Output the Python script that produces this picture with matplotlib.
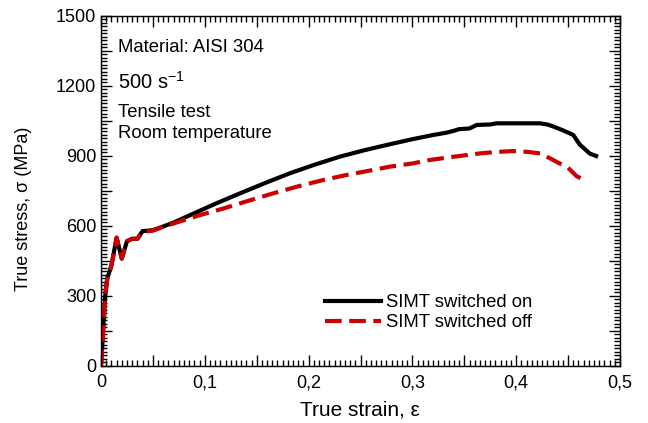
import matplotlib.pyplot as plt
from matplotlib.ticker import MultipleLocator, FuncFormatter

plt.rcParams['font.family'] = ['Liberation Sans', 'DejaVu Sans']
plt.rcParams['mathtext.fontset'] = 'custom'
plt.rcParams['mathtext.rm'] = 'Liberation Sans'

# SIMT switched on
strain_on = [0, 0.002, 0.004, 0.006, 0.01, 0.015, 0.02, 0.025, 0.03, 0.035, 0.04,
             0.05, 0.06, 0.07, 0.086, 0.11, 0.134, 0.158, 0.182, 0.206, 0.23, 0.254,
             0.278, 0.30, 0.32, 0.333, 0.34, 0.345, 0.355, 0.362, 0.375, 0.381, 0.423,
             0.43, 0.436, 0.445, 0.455, 0.461, 0.466, 0.471, 0.477]
stress_on = [0, 150, 300, 375, 430, 550, 460, 535, 545, 545, 578,
             582, 598, 615, 647, 695, 740, 784, 826, 863, 897, 925,
             950, 972, 990, 1000, 1008, 1015, 1018, 1033, 1035, 1040, 1040,
             1035, 1026, 1010, 990, 950, 930, 910, 900]

# SIMT switched off
strain_off = [0, 0.002, 0.004, 0.006, 0.01, 0.015, 0.02, 0.025, 0.03, 0.035, 0.04,
              0.05, 0.06, 0.07, 0.094, 0.118, 0.142, 0.166, 0.19, 0.214, 0.238, 0.262,
              0.278, 0.30, 0.317, 0.34, 0.365, 0.38, 0.397, 0.41, 0.423, 0.433, 0.441,
              0.449, 0.458, 0.462]
stress_off = [0, 150, 300, 375, 430, 550, 460, 535, 545, 545, 575,
              580, 597, 611, 645, 675, 708, 740, 770, 797, 820, 840,
              854, 868, 883, 897, 911, 917, 921, 918, 911, 889, 870,
              854, 814, 805]

fig = plt.figure(figsize=(6.48, 4.23), dpi=100)
ax = fig.add_axes([0.1559, 0.1348, 0.8009, 0.8274])

ax.plot(strain_on, stress_on, color='black', lw=3, label='SIMT switched on')
ax.plot(strain_off, stress_off, color='#cc0000', lw=3, dashes=(4, 1.8),
        label='SIMT switched off')

ax.set_xlim(0, 0.5)
ax.set_ylim(0, 1500)

ax.xaxis.set_major_locator(MultipleLocator(0.05))
ax.xaxis.set_minor_locator(MultipleLocator(0.005))
ax.yaxis.set_major_locator(MultipleLocator(150))
ax.yaxis.set_minor_locator(MultipleLocator(15))


def fmt_x(v, pos):
    k = round(v * 20)
    if k % 2:
        return ''
    if k == 0:
        return '0'
    return ('%.1f' % v).replace('.', ',')


def fmt_y(v, pos):
    k = round(v / 150)
    return '' if k % 2 else '%d' % round(v)


ax.xaxis.set_major_formatter(FuncFormatter(fmt_x))
ax.yaxis.set_major_formatter(FuncFormatter(fmt_y))
ax.tick_params(which='both', direction='in', top=True, right=True, labelsize=13, width=1)
ax.tick_params(which='major', length=8)
ax.tick_params(which='minor', length=4)
ax.tick_params(axis='x', pad=6)
for s in ax.spines.values():
    s.set_linewidth(1)

ax.set_xlabel('True strain, ε', fontsize=15)
ax.set_ylabel('True stress, σ (MPa)', fontsize=13)
ax.xaxis.set_label_coords(0.499, -0.1)
ax.yaxis.set_label_coords(-0.133, 0.449)

ax.text(0.033, 0.911, 'Material: AISI 304', transform=ax.transAxes, fontsize=13.3, va='center')
ax.text(0.033, 0.813, '500 s$^{\\mathrm{-1}}$', transform=ax.transAxes, fontsize=14.5, va='center')
ax.text(0.033, 0.724, 'Tensile test', transform=ax.transAxes, fontsize=13.3, va='center')
ax.text(0.033, 0.664, 'Room temperature', transform=ax.transAxes, fontsize=13.3, va='center')

ax.legend(loc='lower left', bbox_to_anchor=(0.432, 0.1), frameon=False, fontsize=13.3,
          handlelength=3.0, handletextpad=0.27, labelspacing=0.14, borderpad=0,
          borderaxespad=0)

fig.savefig('out.png', dpi=100)
